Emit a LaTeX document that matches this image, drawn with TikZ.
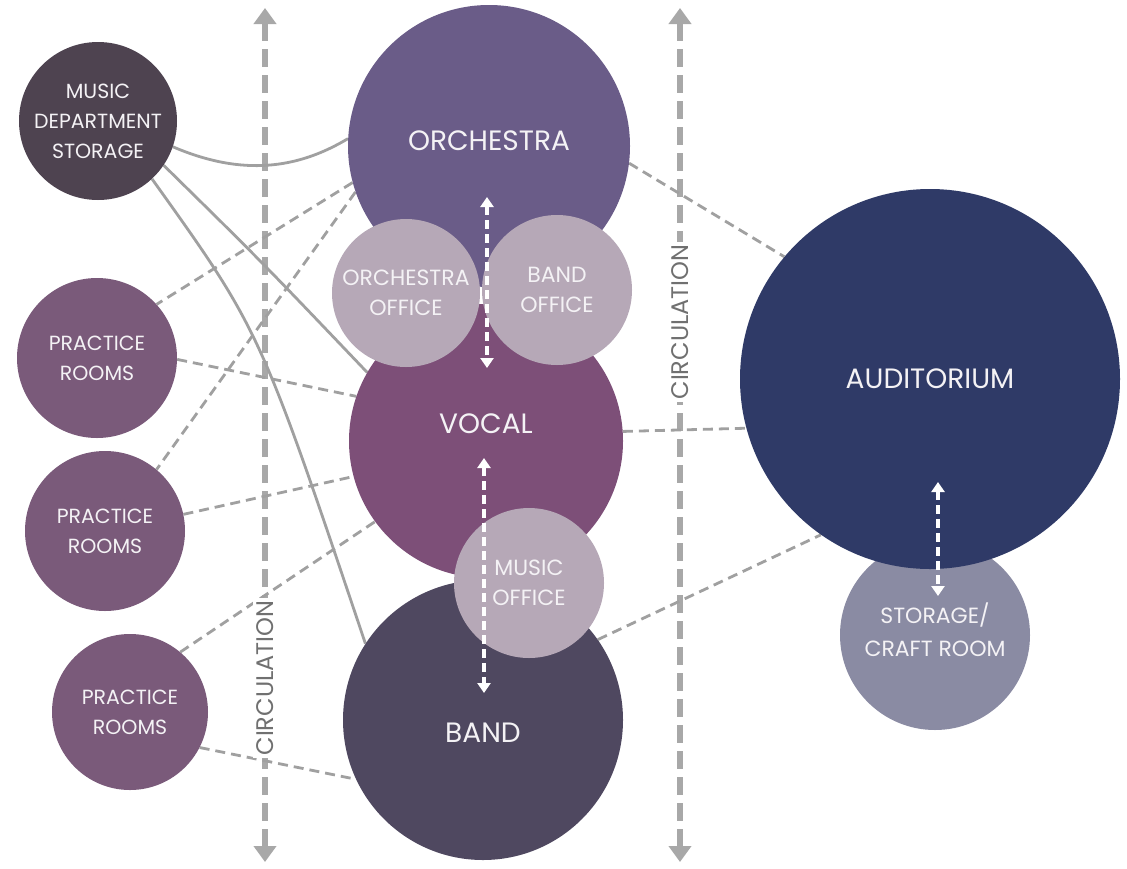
\documentclass[tikz,border=0pt]{standalone}
\usepackage{fontspec}
\setmainfont{Poppins}
\usetikzlibrary{arrows.meta}
\pgfdeclarelayer{background}
\pgfsetlayers{background,main}
\definecolor{cMDS}{HTML}{4E4350}
\definecolor{cPrac}{HTML}{7A5A7A}
\definecolor{cOrch}{HTML}{6A5C88}
\definecolor{cVocal}{HTML}{7D4F78}
\definecolor{cBand}{HTML}{4F4860}
\definecolor{cOffice}{HTML}{B6A8B7}
\definecolor{cAud}{HTML}{2F3A67}
\definecolor{cStor}{HTML}{8A8BA3}
\definecolor{lineGray}{HTML}{A0A0A0}
\definecolor{circGray}{HTML}{A8A8A8}
\definecolor{circText}{HTML}{707070}
\definecolor{txtW}{HTML}{F4F2F5}
\begin{document}
\begin{tikzpicture}[x=1pt,y=-1pt,
  room/.style={circle,inner sep=0pt,text=txtW,align=center,font=\fontsize{20.5}{30}\selectfont},
  bigroom/.style={room,font=\fontsize{28}{32}\selectfont},
  link/.style={draw=lineGray,line width=2.8pt},
  dlink/.style={link,dash pattern=on 10pt off 6pt},
  circline/.style={draw=circGray,line width=6pt,dash pattern=on 18pt off 8pt,
    {Triangle[width=22pt,length=16pt]}-{Triangle[width=22pt,length=16pt]}},
  circlabel/.style={rotate=90,fill=white,text=circText,inner sep=3pt,font=\fontsize{24}{28}\selectfont},
  warrow/.style={draw=white,line width=3.5pt,dash pattern=on 9pt off 5pt,
    {Triangle[width=13pt,length=10pt]}-{Triangle[width=13pt,length=10pt]}}
]
\useasboundingbox (0,0) rectangle (1127,868);

% side rooms
\node[room,fill=cMDS,minimum size=158pt] (mds) at (98,121) {MUSIC\\DEPARTMENT\\STORAGE};
\node[room,fill=cPrac,minimum size=160pt] (p1) at (97,358) {PRACTICE\\ROOMS};
\node[room,fill=cPrac,minimum size=160pt] (p2) at (105,531) {PRACTICE\\ROOMS};
\node[room,fill=cPrac,minimum size=156pt] (p3) at (130,712) {PRACTICE\\ROOMS};

% central column
\node[bigroom,fill=cOrch,minimum size=282pt] (orch) at (489,146) {};
\node[bigroom] (orchT) at (489,141) {ORCHESTRA};
\node[bigroom,fill=cVocal,minimum size=274pt] (vocal) at (486,441) {};
\node[bigroom] (vocalT) at (486,424) {VOCAL};
\node[bigroom,fill=cBand,minimum size=280pt] (band) at (483,720) {};
\node[bigroom] (bandT) at (483,733) {BAND};

\node[room,fill=cOffice,minimum size=148pt,font=\fontsize{22}{30}\selectfont] (oo) at (406,293) {ORCHESTRA\\OFFICE};
\node[room,fill=cOffice,minimum size=150pt,font=\fontsize{22}{30}\selectfont] (bo) at (557,290) {BAND\\OFFICE};
\node[room,fill=cOffice,minimum size=150pt,font=\fontsize{22}{30}\selectfont] (mo) at (529,583) {MUSIC\\OFFICE};

% right
\node[room,fill=cStor,minimum size=190pt] (stor) at (935,635) {};
\node[room,font=\fontsize{22}{33}\selectfont] (storT) at (935,630) {STORAGE/\\CRAFT ROOM};
\node[bigroom,fill=cAud,minimum size=380pt] (aud) at (930,379) {AUDITORIUM};

% white dashed arrows
\coordinate (w1a) at (487,197);
\coordinate (w1b) at (487,368);
\coordinate (w2a) at (484,458);
\coordinate (w2b) at (484,693);
\coordinate (w3a) at (938,482);
\coordinate (w3b) at (938,596);
\draw[warrow] (w1a) -- (w1b);
\draw[warrow] (w2a) -- (w2b);
\draw[warrow] (w3a) -- (w3b);

% circulation
\coordinate (cLt) at (265,8);
\coordinate (cLb) at (265,862);
\coordinate (cRt) at (680,8);
\coordinate (cRb) at (680,862);
\node[circlabel] (cLlab) at (265,678) {CIRCULATION};
\node[circlabel] (cRlab) at (680,322) {CIRCULATION};

\begin{pgfonlayer}{background}
\fill[white] (0,0) rectangle (1127,868);
\draw[circline] (cLt) -- (cLb);
\draw[circline] (cRt) -- (cRb);
% solid links
\draw[link] (mds.-19) .. controls +(70,30) and +(-50,30) .. (orch.177);
\draw[link] (mds.-34) .. controls (260,260) .. (vocal.150);
\draw[link] (mds.-47) .. controls (260,330) .. (band.147);
% dashed links
\draw[dlink] (orch.195) -- (p1.42);
\draw[dlink] (orch.199) -- (p2.50);
\draw[dlink] (p1.-1) -- (vocal.161);
\draw[dlink] (p2.12) -- (vocal.195);
\draw[dlink] (p3.50) -- (vocal.216);
\draw[dlink] (p3.-27) -- (band.205);
\draw[dlink] (orch.-7) -- (aud.140);
\draw[dlink] (vocal.4) -- (aud.195);
\draw[dlink] (band.35) -- (aud.235);
\end{pgfonlayer}
\end{tikzpicture}
\end{document}
